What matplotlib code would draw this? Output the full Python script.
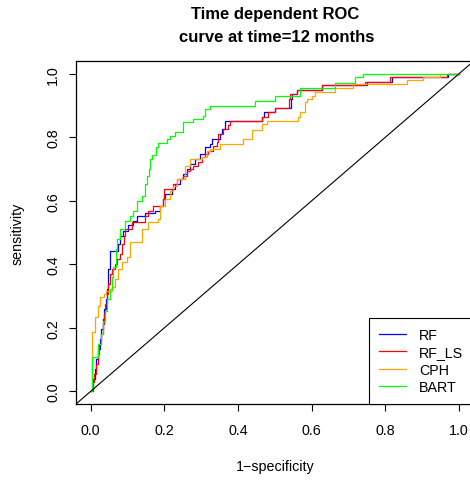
import matplotlib
matplotlib.use('Agg')
import matplotlib.pyplot as plt

plt.rcParams['font.family'] = ['Liberation Sans', 'DejaVu Sans']

# ROC step vertices (1-specificity, sensitivity)
fpr_rf = [0, 0.006, 0.012, 0.014, 0.020, 0.025, 0.028, 0.033, 0.036, 0.042,
          0.044, 0.047, 0.052, 0.052, 0.074, 0.080, 0.088, 0.101, 0.115, 0.126,
          0.147, 0.175, 0.188, 0.196, 0.202, 0.221, 0.229, 0.242, 0.251, 0.261,
          0.270, 0.283, 0.297, 0.310, 0.324, 0.330, 0.351, 0.356, 0.364, 0.465,
          0.471, 0.500, 0.544, 0.547, 0.560, 0.627, 0.750, 0.818, 0.970, 1.0]
tpr_rf = [0, 0.039, 0.070, 0.102, 0.133, 0.165, 0.196, 0.228, 0.259, 0.291,
          0.322, 0.385, 0.417, 0.442, 0.464, 0.489, 0.505, 0.524, 0.536, 0.552,
          0.562, 0.568, 0.584, 0.606, 0.622, 0.637, 0.653, 0.669, 0.684, 0.700,
          0.716, 0.732, 0.747, 0.769, 0.779, 0.795, 0.810, 0.826, 0.851, 0.864,
          0.880, 0.892, 0.921, 0.936, 0.949, 0.965, 0.974, 0.990, 1.0, 1.0]

fpr_rfls = [0, 0.006, 0.009, 0.014, 0.020, 0.023, 0.028, 0.033, 0.036, 0.039,
            0.044, 0.047, 0.052, 0.058, 0.066, 0.071, 0.080, 0.085, 0.090, 0.093,
            0.112, 0.147, 0.156, 0.169, 0.196, 0.199, 0.223, 0.234, 0.251, 0.261,
            0.270, 0.278, 0.291, 0.302, 0.310, 0.319, 0.332, 0.343, 0.346, 0.359,
            0.373, 0.378, 0.465, 0.481, 0.500, 0.538, 0.541, 0.560, 0.627, 0.745,
            0.813, 0.968, 1.0]
tpr_rfls = [0, 0.029, 0.055, 0.086, 0.117, 0.149, 0.180, 0.212, 0.243, 0.275,
            0.306, 0.338, 0.369, 0.385, 0.401, 0.417, 0.432, 0.464, 0.489, 0.511,
            0.533, 0.552, 0.568, 0.584, 0.606, 0.637, 0.653, 0.669, 0.678, 0.694,
            0.700, 0.710, 0.722, 0.738, 0.747, 0.757, 0.773, 0.785, 0.810, 0.826,
            0.839, 0.851, 0.864, 0.880, 0.892, 0.921, 0.936, 0.949, 0.965, 0.974,
            0.990, 1.0, 1.0]

fpr_cph = [0, 0.003, 0.003, 0.012, 0.012, 0.020, 0.025, 0.036, 0.042, 0.058,
           0.066, 0.074, 0.085, 0.099, 0.107, 0.139, 0.156, 0.183, 0.188, 0.202,
           0.215, 0.224, 0.234, 0.256, 0.270, 0.302, 0.316, 0.324, 0.351, 0.414,
           0.438, 0.465, 0.479, 0.563, 0.569, 0.582, 0.588, 0.601, 0.609, 0.664,
           0.712, 0.859, 0.903, 0.949, 1.0]
tpr_cph = [0, 0.102, 0.187, 0.203, 0.234, 0.269, 0.297, 0.306, 0.316, 0.329,
           0.354, 0.385, 0.407, 0.423, 0.470, 0.511, 0.533, 0.543, 0.584, 0.606,
           0.631, 0.647, 0.669, 0.710, 0.732, 0.738, 0.757, 0.764, 0.779, 0.795,
           0.823, 0.842, 0.851, 0.864, 0.880, 0.911, 0.921, 0.930, 0.943, 0.955,
           0.968, 0.980, 0.990, 1.0, 1.0]

fpr_bart = [0, 0.0035, 0.020, 0.020, 0.028, 0.033, 0.039, 0.044, 0.052, 0.057,
            0.060, 0.069, 0.071, 0.080, 0.093, 0.107, 0.115, 0.126, 0.139, 0.147,
            0.153, 0.158, 0.161, 0.166, 0.177, 0.183, 0.207, 0.215, 0.229, 0.251,
            0.251, 0.278, 0.305, 0.310, 0.324, 0.446, 0.500, 0.568, 0.663, 0.718,
            0.739, 1.0]
tpr_bart = [0, 0.108, 0.127, 0.149, 0.180, 0.221, 0.253, 0.291, 0.322, 0.360,
            0.391, 0.448, 0.480, 0.511, 0.536, 0.552, 0.568, 0.599, 0.615, 0.653,
            0.678, 0.700, 0.732, 0.744, 0.769, 0.782, 0.795, 0.804, 0.817, 0.832,
            0.848, 0.858, 0.867, 0.889, 0.899, 0.914, 0.930, 0.955, 0.971, 0.990,
            1.0, 1.0]

labels = ['RF', 'RF_LS', 'CPH', 'BART']
colors = ['#0000FF', '#FF0000', '#FFA500', '#00FF00']
ticks = [0.0, 0.2, 0.4, 0.6, 0.8, 1.0]

fig = plt.figure(figsize=(4.70, 4.81), dpi=100)
ax = fig.add_axes([76 / 470, 76 / 481, 397.8 / 470, 343 / 481])

curves = [(fpr_rf, tpr_rf), (fpr_rfls, tpr_rfls), (fpr_cph, tpr_cph), (fpr_bart, tpr_bart)]
for (fx, ty), lab, col in zip(curves, labels, colors):
    ax.step(fx, ty, where='post', color=col, lw=0.9, label=lab)

ax.axline((0, 0), slope=1, color='black', lw=0.8)

ax.set_xlim(-0.04, 1.04)
ax.set_ylim(-0.04, 1.04)
ax.set_xticks(ticks)
ax.set_yticks(ticks)
ax.set_xticklabels([f'{t:.1f}' for t in ticks])
ax.set_yticklabels([f'{t:.1f}' for t in ticks], rotation=90, va='center')
ax.tick_params(axis='both', direction='out', length=5, width=0.8, labelsize=10.3)
ax.tick_params(axis='x', pad=9)
ax.tick_params(axis='y', pad=6.5)
for s in ax.spines.values():
    s.set_linewidth(0.9)

ax.set_xlabel('1\u2212specificity', fontsize=10.3, va='center')
ax.set_ylabel('sensitivity', fontsize=10.3, va='center')
ax.xaxis.set_label_coords(0.5, (405 - 467) / 343)
ax.yaxis.set_label_coords((18 - 76) / 397.8, 0.5)

fig.text(275 / 470, 1 - 15 / 481, 'Time dependent ROC', ha='center', va='center',
         fontsize=12, fontweight='bold')
fig.text(277 / 470, 1 - 38 / 481, 'curve at time=12 months', ha='center', va='center',
         fontsize=12, fontweight='bold')

leg = ax.legend(loc='lower left', bbox_to_anchor=((369 - 76) / 397.8, 0), borderaxespad=0,
                fontsize=10.3, handlelength=1.9, handletextpad=0.9, borderpad=0.68,
                labelspacing=0.25, fancybox=False, framealpha=1)
leg.get_frame().set_edgecolor('black')
leg.get_frame().set_linewidth(0.8)

fig.savefig('out.png', dpi=100)
